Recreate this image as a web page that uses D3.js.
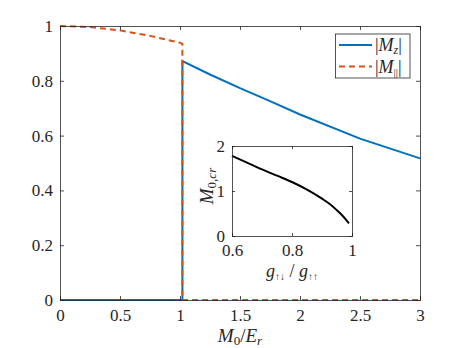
<!DOCTYPE html>
<html><head><meta charset="utf-8">
<script src="https://cdn.jsdelivr.net/npm/d3@7"></script>
<style>
body{margin:0;background:#fff;}
svg{display:block;}
</style></head><body>
<svg id="c" width="463" height="348"></svg>
<script>
// ---- data ----
const mzX = [0, 1.02, 1.02, 1.25, 1.5, 1.75, 2.0, 2.5, 3.0];
const mzY = [0, 0, 0.872, 0.823, 0.773, 0.726, 0.677, 0.589, 0.517];
const mparX = [0, 0.25, 0.5, 0.75, 1.0, 1.02, 1.02, 3.0];
const mparY = [1.0, 0.996, 0.984, 0.964, 0.939, 0.935, 0, 0];
const xTicks = [0, 0.5, 1, 1.5, 2, 2.5, 3];
const yTicks = [0, 0.2, 0.4, 0.6, 0.8, 1];
const insetX = [0.6, 0.65, 0.7, 0.75, 0.8, 0.85, 0.9, 0.93, 0.95, 0.97, 0.99];
const insetY = [1.78, 1.63, 1.48, 1.34, 1.20, 1.03, 0.83, 0.69, 0.57, 0.44, 0.28];
const insetXTicks = [0.6, 0.8, 1];
const insetYTicks = [0, 1, 2];

const FONT = "Liberation Serif";
const INK = "#262626";
const svg = d3.select("#c").attr("font-family", FONT);
const fmt = d => String(d);

// ---- main axes ----
const x = d3.scaleLinear().domain([0, 3]).range([60, 420]);
const y = d3.scaleLinear().domain([0, 1]).range([300, 26]);

svg.append("rect").attr("x",60).attr("y",26).attr("width",360).attr("height",274).attr("fill","#fff");

const line = d3.line().x(d=>x(d[0])).y(d=>y(d[1]));
svg.append("path").datum(mzX.map((v,i)=>[v,mzY[i]])).attr("d",line)
  .attr("fill","none").attr("stroke","#0072BD").attr("stroke-width",2);
svg.append("path").datum(mparX.map((v,i)=>[v,mparY[i]])).attr("d",line)
  .attr("fill","none").attr("stroke","#D95319").attr("stroke-width",2).attr("stroke-dasharray","6,4");

function styleAxis(sel){
  sel.attr("font-family", FONT).attr("font-size", 17);
  sel.selectAll("path,line").attr("stroke", INK).attr("stroke-width", 0.8);
  sel.selectAll("text").attr("fill", INK).attr("font-family", FONT);
}
function axes(g, xs, ys, xt, yt, padX, padY, tl){
  g.append("g").attr("transform",`translate(0,${ys.range()[0]})`)
    .call(d3.axisBottom(xs).tickValues(xt).tickFormat(fmt).tickSize(-tl).tickPadding(padX)).call(styleAxis);
  g.append("g").attr("transform",`translate(0,${ys.range()[1]})`)
    .call(d3.axisTop(xs).tickValues(xt).tickFormat("").tickSize(-tl)).call(styleAxis);
  g.append("g").attr("transform",`translate(${xs.range()[0]},0)`)
    .call(d3.axisLeft(ys).tickValues(yt).tickFormat(fmt).tickSize(-tl).tickPadding(padY)).call(styleAxis);
  g.append("g").attr("transform",`translate(${xs.range()[1]},0)`)
    .call(d3.axisRight(ys).tickValues(yt).tickFormat("").tickSize(-tl)).call(styleAxis);
}
axes(svg, x, y, xTicks, yTicks, 9, 7, 4);

// x label M0/Er
const xl = svg.append("text").attr("x",240).attr("y",342).attr("text-anchor","middle").attr("font-size","19px").attr("fill",INK);
xl.append("tspan").attr("font-style","italic").text("M");
xl.append("tspan").attr("font-size","13px").attr("dy",3).text("0");
xl.append("tspan").attr("dy",-3).text("/");
xl.append("tspan").attr("font-style","italic").text("E");
xl.append("tspan").attr("font-style","italic").attr("font-size","13px").attr("dy",3).text("r");

// legend
const lg = svg.append("g");
lg.append("rect").attr("x",335.5).attr("y",34).attr("width",74.5).attr("height",44)
  .attr("fill","#fff").attr("stroke",INK).attr("stroke-width",0.8);
lg.append("line").attr("x1",339).attr("x2",372).attr("y1",45).attr("y2",45).attr("stroke","#0072BD").attr("stroke-width",2);
lg.append("line").attr("x1",339).attr("x2",372).attr("y1",66.5).attr("y2",66.5).attr("stroke","#D95319").attr("stroke-width",2).attr("stroke-dasharray","6,4");
const t1 = lg.append("text").attr("x",375).attr("y",51).attr("font-size","18px").attr("fill",INK);
t1.append("tspan").text("|");
t1.append("tspan").attr("font-style","italic").text("M");
t1.append("tspan").attr("font-style","italic").attr("font-size","12px").attr("dy",3).text("z");
t1.append("tspan").attr("dy",-3).text("|");
const t2 = lg.append("text").attr("x",375).attr("y",72.5).attr("font-size","18px").attr("fill",INK);
t2.append("tspan").text("|");
t2.append("tspan").attr("font-style","italic").text("M");
t2.append("tspan").attr("font-size","11px").attr("dy",3).text("||");
t2.append("tspan").attr("dy",-3).text("|");

// ---- inset ----
const ix = d3.scaleLinear().domain([0.6, 1]).range([232, 352]);
const iy = d3.scaleLinear().domain([0, 2]).range([236, 146]);
const ig = svg.append("g");
ig.append("rect").attr("x",232).attr("y",146).attr("width",120).attr("height",90).attr("fill","#fff");
ig.append("path").datum(insetX.map((v,i)=>[v,insetY[i]]))
  .attr("d", d3.line().x(d=>ix(d[0])).y(d=>iy(d[1])).curve(d3.curveMonotoneX))
  .attr("fill","none").attr("stroke","#000").attr("stroke-width",2);
axes(ig, ix, iy, insetXTicks, insetYTicks, 8, 7, 3);

const il = ig.append("text").attr("x",292).attr("y",277).attr("text-anchor","middle").attr("font-size","18px").attr("fill",INK);
il.append("tspan").attr("font-style","italic").text("g");
il.append("tspan").attr("font-size","10px").attr("dy",3).text("↑↓");
il.append("tspan").attr("dy",-3).text(" / ");
il.append("tspan").attr("font-style","italic").text("g");
il.append("tspan").attr("font-size","10px").attr("dy",3).text("↑↑");

const yl = ig.append("text").attr("transform","translate(213,186) rotate(-90)").attr("text-anchor","middle").attr("font-size","19px").attr("fill",INK);
yl.append("tspan").attr("font-style","italic").text("M");
yl.append("tspan").attr("font-size","13px").attr("dy",3).text("0,");
yl.append("tspan").attr("font-size","13px").attr("font-style","italic").text("cr");
</script>
</body></html>
